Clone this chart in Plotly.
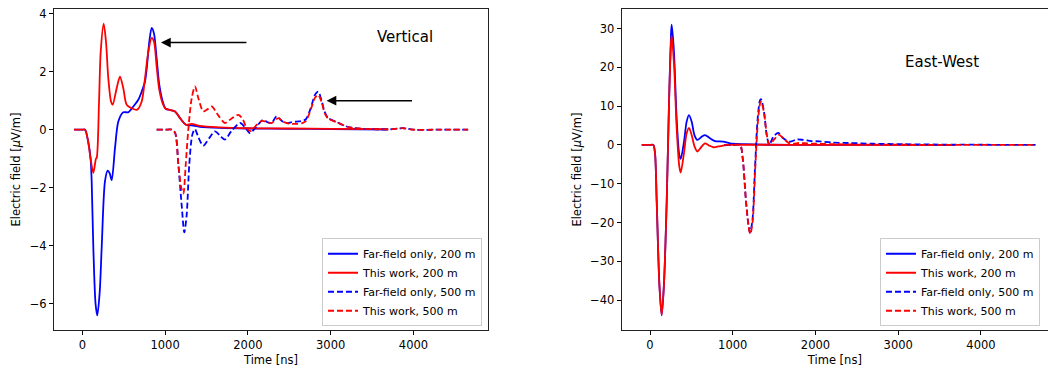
import plotly.graph_objects as go

# ---------------- Vertical component (left) ----------------
t_ff200_v = [-100, 0, 33, 70, 100, 113, 133, 160, 181, 210, 234, 274, 307, 330, 355, 395, 435, 495, 556, 616, 676, 717, 757, 778, 809, 838, 866, 898, 930, 971, 1007, 1060, 1120, 1180, 1253, 1321, 1421, 1663, 2000, 2500, 3000, 3690]
e_ff200_v = [0, 0, 0, -0.4, -1.0, -1.77, -4.06, -6.0, -6.4, -5.6, -4.06, -1.77, -1.41, -1.5, -1.74, -0.63, 0.28, 0.6, 0.6, 0.8, 1.03, 1.31, 1.66, 2.11, 3.03, 3.51, 3.31, 2.45, 1.54, 0.97, 0.72, 0.68, 0.63, 0.4, 0.17, 0.15, 0.1, 0.06, 0.04, 0.03, 0.02, 0.0]

t_tw200_v = [-100, 0, 33, 70, 100, 133, 165, 174, 202, 222, 258, 286, 314, 347, 367, 415, 455, 495, 536, 597, 664, 717, 757, 797, 838, 866, 898, 930, 971, 1007, 1060, 1120, 1180, 1253, 1321, 1421, 1663, 2000, 2500, 3000, 3690]
e_tw200_v = [0, 0, 0, -0.4, -1.0, -1.49, -1.0, -0.97, 0.97, 2.68, 3.65, 3.03, 1.77, 0.97, 0.86, 1.43, 1.83, 1.43, 0.86, 0.74, 0.69, 0.97, 1.77, 2.68, 3.16, 3.03, 2.17, 1.37, 0.9, 0.72, 0.68, 0.63, 0.4, 0.17, 0.2, 0.13, 0.08, 0.05, 0.04, 0.03, 0.02]

t_ff500_v = [898, 1000, 1080, 1120, 1160, 1200, 1232, 1261, 1292, 1329, 1361, 1400, 1461, 1530, 1603, 1660, 1723, 1800, 1905, 1960, 2025, 2100, 2186, 2240, 2287, 2347, 2410, 2468, 2530, 2589, 2650, 2700, 2760, 2810, 2850, 2890, 2930, 2971, 3080, 3193, 3300, 3500, 3700, 3877, 4000, 4300, 4660]
e_ff500_v = [0, 0, 0, -0.1, -1.2, -2.6, -3.54, -2.91, -1.2, -0.17, 0.02, -0.25, -0.55, -0.3, -0.06, -0.2, -0.34, -0.05, 0.23, 0.1, -0.12, 0.1, 0.34, 0.25, 0.23, 0.46, 0.3, 0.23, 0.26, 0.28, 0.3, 0.36, 0.75, 1.2, 1.31, 1.0, 0.6, 0.4, 0.25, 0.11, 0.05, 0.02, 0.01, 0.05, 0.0, 0.0, 0.0]

t_tw500_v = [898, 1000, 1080, 1120, 1160, 1195, 1220, 1249, 1280, 1321, 1361, 1400, 1461, 1510, 1562, 1640, 1723, 1800, 1884, 1940, 1985, 2030, 2100, 2170, 2240, 2287, 2368, 2420, 2468, 2530, 2589, 2650, 2700, 2760, 2810, 2850, 2890, 2930, 2971, 3080, 3193, 3300, 3500, 3700, 3877, 4000, 4300, 4660]
e_tw500_v = [0, 0, 0, -0.1, -1.2, -2.0, -2.2, -1.2, 0.0, 1.08, 1.49, 1.1, 0.63, 0.7, 0.8, 0.5, 0.23, 0.38, 0.51, 0.35, 0.05, -0.05, 0.15, 0.3, 0.25, 0.23, 0.4, 0.28, 0.23, 0.2, 0.2, 0.22, 0.3, 0.7, 1.1, 1.2, 0.95, 0.55, 0.38, 0.25, 0.11, 0.05, 0.02, 0.01, 0.05, 0.0, 0.0, 0.0]

# ---------------- East-West component (right) ----------------
t_ff200_ew = [-100, 0, 40, 60, 81, 113, 141, 169, 202, 230, 254, 262, 290, 322, 354, 371, 411, 443, 471, 504, 536, 572, 624, 665, 725, 785, 886, 967, 1128, 1400, 2000, 3000, 3690]
e_ff200_ew = [0, 0, 0, -2, -14.5, -35.8, -43.9, -35.8, -14.5, 11, 28.5, 31.0, 23.9, 6.8, -2.6, -3.6, 0.84, 6.0, 7.7, 6.0, 2.6, 1.28, 2.1, 2.55, 1.7, 1.0, 0.85, 0.4, 0.2, 0.05, 0.02, 0.0, 0.0]

t_tw200_ew = [-100, 0, 40, 60, 81, 113, 141, 169, 202, 230, 254, 262, 290, 322, 354, 371, 411, 443, 471, 504, 540, 572, 610, 665, 710, 766, 830, 900, 1000, 1200, 2000, 3000, 3690]
e_tw200_ew = [0, 0, 0, -2, -14.5, -35.8, -43.9, -35.8, -14.5, 11, 26.5, 28.1, 21.0, 4.5, -5.5, -7.1, -2.0, 3.0, 4.4, 2.5, -0.5, -1.7, -0.8, 0.4, -0.1, -0.6, -0.4, -0.1, 0.0, 0.05, 0.0, 0.0, 0.0]

t_ff500_ew = [898, 1000, 1088, 1120, 1160, 1188, 1208, 1237, 1269, 1301, 1329, 1341, 1378, 1410, 1442, 1490, 1551, 1611, 1692, 1773, 1850, 1950, 2050, 2200, 2400, 2700, 3000, 3500, 4000, 4660]
e_ff500_ew = [0, 0, 0, -3.4, -14.5, -20.3, -22.6, -19.6, -6.0, 6.8, 11.5, 11.8, 8.5, 2.6, 0.0, 2.1, 3.1, 1.7, 0.85, 1.4, 1.3, 1.0, 0.9, 0.6, 0.5, 0.3, 0.2, 0.1, 0.05, 0.0]

t_tw500_ew = [898, 1000, 1088, 1120, 1160, 1190, 1212, 1240, 1272, 1304, 1332, 1345, 1380, 1414, 1448, 1495, 1560, 1615, 1670, 1730, 1800, 1900, 2000, 2200, 2500, 3000, 3500, 4000, 4660]
e_tw500_ew = [0, 0, 0, -3.4, -14.5, -20.8, -23.0, -19.8, -6.0, 6.0, 10.8, 11.2, 8.0, 2.3, 0.0, 1.3, 2.6, 1.6, 0.6, 0.3, 0.5, 0.4, 0.3, 0.2, 0.1, 0.05, 0.02, 0.0, 0.0]

names = ["Far-field only, 200 m", "This work, 200 m", "Far-field only, 500 m", "This work, 500 m"]
colors = ["#0000ff", "#ff0000", "#0000ff", "#ff0000"]
dashes = ["solid", "solid", "6px,3px", "6px,3px"]
panel_titles = ["Vertical", "East-West"]
ytitle = "Electric field [<i>μ</i>V/m]"
xtitle = "Time [ns]"

FONT = "DejaVu Sans"
W, H = 1048, 369


def px(x):
    return min(1.0, max(0.0, x / W))


def py(y):
    return min(1.0, max(0.0, (H - y) / H))


fig = go.Figure()
left = [(t_ff200_v, e_ff200_v), (t_tw200_v, e_tw200_v), (t_ff500_v, e_ff500_v), (t_tw500_v, e_tw500_v)]
right = [(t_ff200_ew, e_ff200_ew), (t_tw200_ew, e_tw200_ew), (t_ff500_ew, e_ff500_ew), (t_tw500_ew, e_tw500_ew)]

for i, (t, e) in enumerate(left):
    fig.add_trace(go.Scatter(x=t, y=e, mode="lines", name=names[i], xaxis="x", yaxis="y",
                             line=dict(color=colors[i], width=1.8, dash=dashes[i], shape="spline", smoothing=0.8),
                             legend="legend"))
for i, (t, e) in enumerate(right):
    fig.add_trace(go.Scatter(x=t, y=e, mode="lines", name=names[i], xaxis="x2", yaxis="y2",
                             line=dict(color=colors[i], width=1.8, dash=dashes[i], shape="spline", smoothing=0.8),
                             legend="legend2"))

ydom = [py(330), py(7)]
axis_common = dict(showgrid=False, zeroline=False, ticks="outside", ticklen=4, tickwidth=1,
                   tickcolor="#000", showline=True, linecolor="#222", linewidth=1,
                   tickfont=dict(family=FONT, size=11.5, color="#000"))
leg_common = dict(bgcolor="rgba(255,255,255,0.8)", bordercolor="#cccccc", borderwidth=1,
                  font=dict(family=FONT, size=11), itemwidth=30, tracegroupgap=0)

fig.update_layout(
    width=W, height=H,
    margin=dict(l=0, r=0, t=0, b=0),
    paper_bgcolor="white", plot_bgcolor="white",
    font=dict(family=FONT, size=11, color="#000"),
    xaxis=dict(domain=[px(54), px(488)], range=[-342, 4900], anchor="y", mirror=True,
               tickvals=[0, 1000, 2000, 3000, 4000],
               title=dict(text=xtitle, font=dict(family=FONT, size=11.5), standoff=4), **axis_common),
    yaxis=dict(domain=ydom, range=[-6.91, 4.16], anchor="x", mirror=True,
               tickvals=[-6, -4, -2, 0, 2, 4],
               title=dict(text=ytitle, font=dict(family=FONT, size=11.5), standoff=6), **axis_common),
    xaxis2=dict(domain=[px(621.7), 1.0], range=[-342, 4810], anchor="y2", mirror=True,
                tickvals=[0, 1000, 2000, 3000, 4000],
                title=dict(text=xtitle, font=dict(family=FONT, size=11.5), standoff=4), **axis_common),
    yaxis2=dict(domain=ydom, range=[-47.75, 35.04], anchor="x2", mirror=False,
                tickvals=[-40, -30, -20, -10, 0, 10, 20, 30],
                title=dict(text=ytitle, font=dict(family=FONT, size=11.5), standoff=6), **axis_common),
    legend=dict(x=px(482), xanchor="right", y=py(326), yanchor="bottom", **leg_common),
    legend2=dict(x=px(880), xanchor="left", y=py(326), yanchor="bottom", **leg_common),
    showlegend=True,
)

fig.add_annotation(x=950, y=3.0, ax=2000, ay=3.0, xref="x", yref="y", axref="x", ayref="y",
                   text="", showarrow=True, arrowhead=2, arrowsize=1.3, arrowwidth=1.5, arrowcolor="#000")
fig.add_annotation(x=2950, y=1.0, ax=4000, ay=1.0, xref="x", yref="y", axref="x", ayref="y",
                   text="", showarrow=True, arrowhead=2, arrowsize=1.3, arrowwidth=1.5, arrowcolor="#000")
fig.add_annotation(x=px(405), y=py(35), xref="paper", yref="paper", text=panel_titles[0],
                   xanchor="center", yanchor="middle",
                   showarrow=False, font=dict(family=FONT, size=15, color="#000"))
fig.add_annotation(x=px(942), y=py(60), xref="paper", yref="paper", text=panel_titles[1],
                   xanchor="center", yanchor="middle",
                   showarrow=False, font=dict(family=FONT, size=15, color="#000"))

# remove the browser's default 8px body margin so the figure fills the window
fig.write_html("out.html", config={"displayModeBar": False},
               post_script="document.body.style.margin='0px';")
